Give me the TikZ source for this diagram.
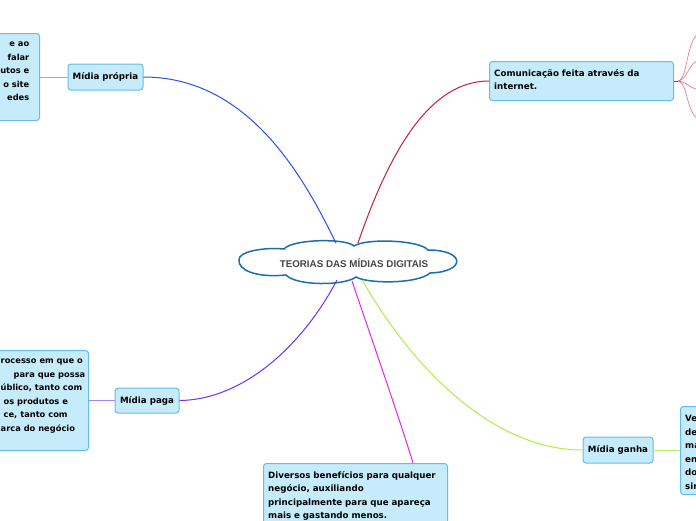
\documentclass[tikz,border=0pt]{standalone}
\usepackage{fontspec}
\setmainfont{DejaVu Sans}
\newfontfamily\centerfont{Liberation Sans}
\definecolor{boxfill}{RGB}{198,236,252}
\definecolor{boxline}{RGB}{100,188,236}
\definecolor{cloudline}{RGB}{30,110,175}
\definecolor{cblue}{RGB}{40,80,245}
\definecolor{cred}{RGB}{200,30,60}
\definecolor{cpink}{RGB}{232,110,135}
\definecolor{cpurple}{RGB}{110,50,240}
\definecolor{cmag}{RGB}{225,40,235}
\definecolor{cgreen}{RGB}{170,240,70}
\tikzset{
  box/.style={draw=boxline, fill=boxfill, rounded corners=3pt, line width=1pt, inner sep=0pt},
  boxtext/.style={font=\bfseries\fontsize{8.7}{13.5}\selectfont, text=black, inner sep=0pt},
  fragtext/.style={font=\bfseries\fontsize{8.3}{13.5}\selectfont, text=black, inner sep=0pt},
  link/.style={line width=1pt},
  thinlink/.style={line width=0.6pt}
}
\begin{document}
\begin{tikzpicture}[x=1pt,y=-1pt]
\useasboundingbox (0,0) rectangle (696,520);
\clip (0,0) rectangle (696,520);
\fill[white] (0,0) rectangle (696,520);

% connector anchor coordinates on the cloud
\coordinate (cblueA) at (336,243);
\coordinate (credA) at (358,243);
\coordinate (cpurA) at (337,280);
\coordinate (cmagA) at (352,281);
\coordinate (cgrnA) at (362,280);

% boxes
\node[box, minimum width=75, minimum height=26, boxtext] (propria) at (105.5,77) {Mídia própria};
\node[box, minimum width=60, minimum height=87, anchor=north east] (propriatxt) at (40,33) {};
\node[box, minimum width=184, minimum height=39, anchor=north west] (comun) at (489,61) {};
\node[boxtext, anchor=north west, text width=180, align=left] (comuntxt) at (494,69) {Comunicação feita através da\\internet.};
\node[box, minimum width=64, minimum height=25, boxtext] (paga) at (147,400.5) {Mídia paga};
\node[box, minimum width=110, minimum height=100, anchor=north east] (pagatxt) at (89,350) {};
\node[box, minimum width=70, minimum height=26, boxtext] (ganha) at (618,450) {Mídia ganha};
\node[box, minimum width=40, minimum height=88, anchor=north west] (ganhatxt) at (680,406) {};
\node[box, minimum width=184, minimum height=90, anchor=north west] (bene) at (263,463) {};
\node[boxtext, anchor=north west, text width=180, align=left] (benetxt) at (268,471) {Diversos benefícios para qualquer\\negócio, auxiliando\\principalmente para que apareça\\mais e gastando menos.};

% partial texts (cut by the picture edge)
\node[fragtext, anchor=north east, align=right] (propfrag) at (29.5,42) {e ao\\falar\\utos e\\o site\\edes\hspace{5pt}};
\node[fragtext, anchor=north west, align=left] (pagfrag) at (0.5,359) {rocesso em que o\\\hspace{13pt}para que possa\\úblico, tanto com\\\hspace{3pt}os produtos e\\\hspace{3pt}ce, tanto com\\arca do negócio};
\node[boxtext, anchor=north west, align=left] (ganfrag) at (685,415) {Ve\\de\\ma\\en\\do\\sir};

% cloud
\draw[cloudline, line width=1.5pt, fill=white]
  (239,260) .. controls (238,252) and (262,247) .. (284,249)
  .. controls (292,239) and (346,238) .. (354,246)
  .. controls (366,238) and (420,240) .. (428,250)
  .. controls (466,250) and (466,272) .. (430,273)
  .. controls (418,284) and (368,284) .. (356,277)
  .. controls (344,286) and (296,286) .. (286,275)
  .. controls (256,278) and (238,270) .. (239,260) -- cycle;
\node[font=\centerfont\bfseries\fontsize{9.8}{11}\selectfont, text=black!72, inner sep=0pt] (root) at (354,263) {TEORIAS DAS MÍDIAS DIGITAIS};

% main connectors
\draw[link, cblue] (cblueA) .. controls (305,180) and (250,77) .. (propria.east);
\draw[link, cred] (credA) .. controls (390,150) and (430,81) .. (comun.west);
\draw[link, cpurple] (cpurA) .. controls (300,350) and (240,400) .. (paga.east);
\draw[link, cmag] (cmagA) .. controls (372,340) and (400,420) .. (bene.north -| 413,463);
\draw[link, cgreen] (cgrnA) .. controls (420,380) and (500,450) .. (ganha.west);

% secondary connectors
\draw[thinlink, cblue!50] (propriatxt.east |- propria) -- (propria.west);
\draw[thinlink, cpurple!60] (pagatxt.east |- paga) -- (paga.west);
\draw[thinlink, cgreen!80] (ganha.east) -- (ganhatxt.west |- ganha);

% branches right of the Comunicação box
\coordinate (split) at (678,81);
\coordinate (b1) at (700,33);
\coordinate (b2) at (700,60);
\coordinate (b3) at (700,90);
\coordinate (b4) at (700,120);
\draw[link, cred] (comun.east) -- (split);
\draw[thinlink, cpink] (split) .. controls (688,80) and (686,38) .. (b1);
\draw[thinlink, cpink] (split) .. controls (688,80) and (688,62) .. (b2);
\draw[thinlink, cpink] (split) .. controls (688,82) and (688,88) .. (b3);
\draw[thinlink, cpink] (split) .. controls (688,82) and (686,115) .. (b4);
\end{tikzpicture}
\end{document}
